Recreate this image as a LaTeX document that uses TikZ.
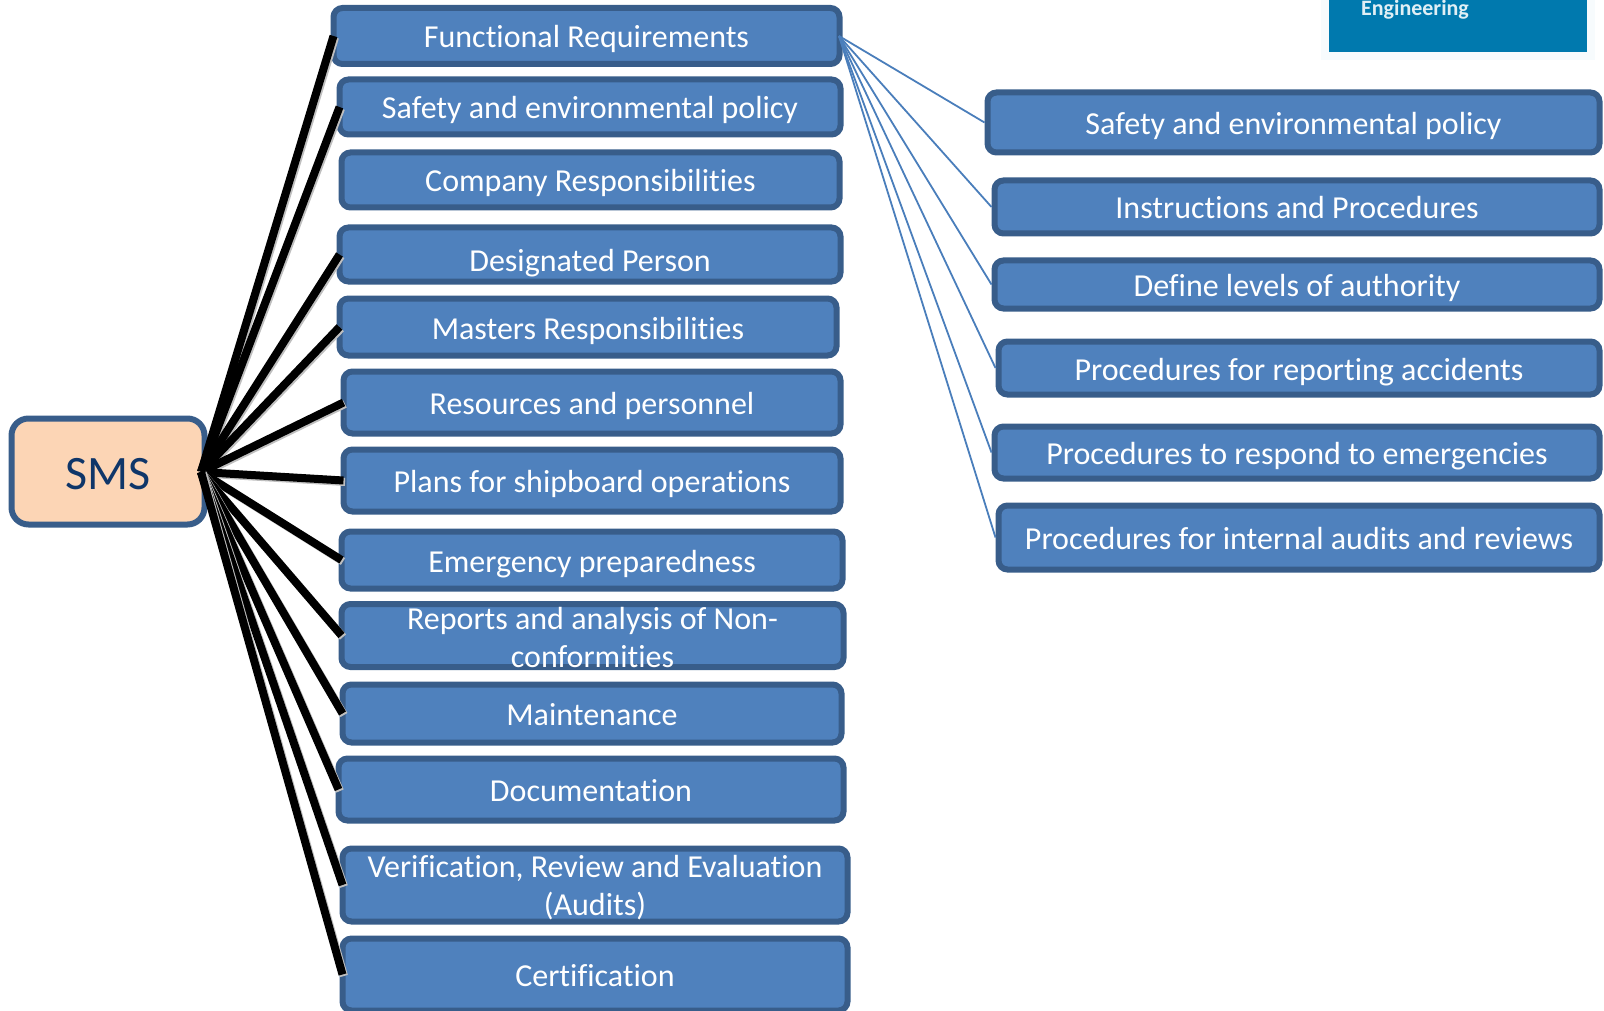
\documentclass[tikz,border=0pt]{standalone}
\usepackage{fontspec}
\setmainfont[Ligatures=NoCommon]{Carlito}
\definecolor{boxfill}{HTML}{4F81BD}
\definecolor{boxline}{HTML}{385D8A}
\definecolor{smsfill}{HTML}{FCD5B5}
\definecolor{smstext}{HTML}{0F3669}
\definecolor{logofill}{HTML}{0079AE}
\definecolor{wirecol}{HTML}{4A7EBB}
\tikzset{
	itembox/.style={draw=boxline,fill=boxfill,line width=6pt,rounded corners=9pt,inner sep=0,text=white,font=\fontsize{32}{38}\selectfont,text height=24pt,text depth=0pt},
	twolines/.style={align=center,text height=#1,text depth=-#1},
	smsbox/.style={draw=boxline,fill=smsfill,line width=6pt,rounded corners=17pt,inner sep=0,text=smstext,font=\fontsize{48}{58}\selectfont,text height=36pt,text depth=0pt},
	spoke/.style={line width=8pt,black,preaction={draw=black!25,line width=8pt,transform canvas={xshift=1.5pt,yshift=-1.5pt}}},
	wire/.style={line width=1.8pt,wirecol}
}
\begin{document}
\begin{tikzpicture}[x=1pt,y=-1pt]
	\useasboundingbox (0,0) rectangle (1604,1011);
	\node[fill=logofill,draw=logofill!3,line width=8pt,inner sep=0,minimum width=266pt,minimum height=60pt] (logo) at (1458,26) {};
	\node[text=logofill!12,inner sep=0,font=\fontsize{22}{26}\selectfont\bfseries] (logotext) at (1415,10) {Engineering};
	\node[smsbox,minimum width=193pt,minimum height=106pt] (sms) at (108,471.5) {SMS};
	\node[itembox,minimum width=506pt,minimum height=56pt] (req) at (586.5,36) {Functional Requirements};
	\node[itembox,minimum width=501pt,minimum height=55pt] (policy) at (590,107) {Safety and environmental policy};
	\node[itembox,minimum width=498pt,minimum height=55pt] (company) at (590.5,180) {Company Responsibilities};
	\node[itembox,text height=34pt,minimum width=501pt,minimum height=54pt] (person) at (590,254.5) {Designated Person};
	\node[itembox,minimum width=497pt,minimum height=57pt] (masters) at (588,327) {Masters Responsibilities};
	\node[itembox,minimum width=497pt,minimum height=62pt] (resources) at (592,402.5) {Resources and personnel};
	\node[itembox,minimum width=497pt,minimum height=62pt] (plans) at (592,480.5) {Plans for shipboard operations};
	\node[itembox,minimum width=501pt,minimum height=57pt] (emergency) at (592,560) {Emergency preparedness};
	\node[itembox,twolines=63pt,minimum width=502pt,minimum height=62pt] (reports) at (592.5,635.5) {Reports and analysis of Non-\\conformities};
	\node[itembox,minimum width=499pt,minimum height=58pt] (maintenance) at (592,713.5) {Maintenance};
	\node[itembox,minimum width=505pt,minimum height=62pt] (docs) at (591,789.5) {Documentation};
	\node[itembox,twolines=61pt,minimum width=505pt,minimum height=73pt] (audits) at (595,885) {Verification, Review and Evaluation\\(Audits)};
	\node[itembox,minimum width=505pt,minimum height=72pt] (cert) at (595,974.5) {Certification};
	\node[itembox,minimum width=612pt,minimum height=60pt] (r1) at (1293.5,122.5) {Safety and environmental policy};
	\node[itembox,minimum width=605pt,minimum height=53pt] (r2) at (1297,207) {Instructions and Procedures};
	\node[itembox,minimum width=605pt,minimum height=48pt] (r3) at (1297,284.5) {Define levels of authority};
	\node[itembox,minimum width=601pt,minimum height=53pt] (r4) at (1299,368) {Procedures for reporting accidents};
	\node[itembox,minimum width=605pt,minimum height=52pt] (r5) at (1297,452.5) {Procedures to respond to emergencies};
	\node[itembox,minimum width=601pt,minimum height=64pt] (r6) at (1299,537.5) {Procedures for internal audits and reviews};
	\coordinate (hub) at (201,472);
	\coordinate (reqout) at (839,36);
	\draw[spoke] (hub) -- ([xshift=3pt]req.west);
	\draw[spoke] (hub) -- ([xshift=3pt]policy.west);
	\draw[spoke] (hub) -- ([xshift=3pt]person.west);
	\draw[spoke] (hub) -- ([xshift=3pt]masters.west);
	\draw[spoke] (hub) -- ([xshift=3pt]resources.west);
	\draw[spoke] (hub) -- ([xshift=3pt]plans.west);
	\draw[spoke] (hub) -- ([xshift=3pt]emergency.west);
	\draw[spoke] (hub) -- ([xshift=3pt]reports.west);
	\draw[spoke] (hub) -- ([xshift=3pt]maintenance.west);
	\draw[spoke] (hub) -- ([xshift=3pt]docs.west);
	\draw[spoke] (hub) -- ([xshift=3pt]audits.west);
	\draw[spoke] (hub) -- ([xshift=3pt]cert.west);
	\draw[wire] (reqout) -- (r1.west);
	\draw[wire] (reqout) -- (r2.west);
	\draw[wire] (reqout) -- (r3.west);
	\draw[wire] (reqout) -- (r4.west);
	\draw[wire] (reqout) -- (r5.west);
	\draw[wire] (reqout) -- (r6.west);
\end{tikzpicture}
\end{document}
